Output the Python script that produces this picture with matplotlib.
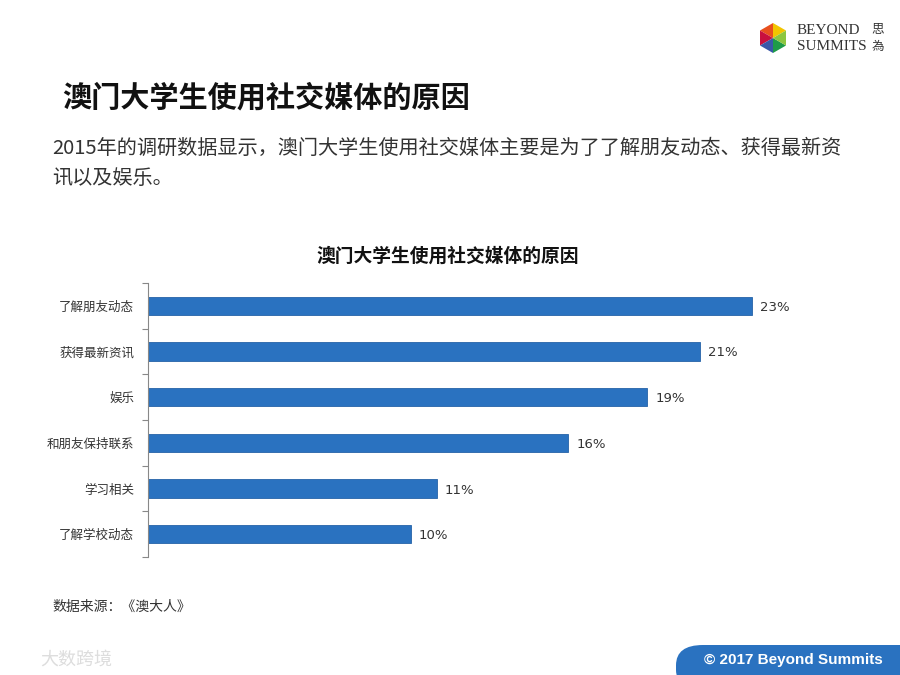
import matplotlib.pyplot as plt
from matplotlib.patches import Polygon, FancyBboxPatch
import numpy as np

plt.rcParams['font.family'] = ['Noto Sans CJK SC', 'DejaVu Sans']

# ---------------- data ----------------
reasons = ['了解朋友动态', '获得最新资讯', '娱乐', '和朋友保持联系', '学习相关', '了解学校动态']
shares = [23, 21, 19, 16, 11, 10]
value_labels = ['23%', '21%', '19%', '16%', '11%', '10%']

W, H = 900, 675
fig = plt.figure(figsize=(9, 6.75), dpi=100)
fig.patch.set_facecolor('white')

def fx(x):
    return x / W

def fy(y):
    return 1 - y / H

# ---------------- header ----------------
fig.text(fx(62), fy(97), '澳门大学生使用社交媒体的原因', fontsize=21, fontweight='bold',
         color='#111111', va='center', ha='left')
fig.text(fx(52), fy(148), '2015年的调研数据显示，澳门大学生使用社交媒体主要是为了了解朋友动态、获得最新资',
         fontsize=14.5, color='#333333', va='center', ha='left')
fig.text(fx(52), fy(179), '讯以及娱乐。', fontsize=14.5, color='#333333', va='center', ha='left')

# logo (hexagon of coloured triangles)
cx, cy, r = 773, 38, 15
logo_cols = ['#f2c500', '#e8501e', '#c8103e', '#3a57a8', '#1e9b48', '#8cc63f']
ang = np.deg2rad(np.arange(0, 361, 60) + 30)
for i in range(6):
    pts = [(fx(cx), fy(cy)),
           (fx(cx + r * np.cos(ang[i])), fy(cy - r * np.sin(ang[i]))),
           (fx(cx + r * np.cos(ang[i + 1])), fy(cy - r * np.sin(ang[i + 1])))]
    fig.patches.append(Polygon(pts, closed=True, facecolor=logo_cols[i], edgecolor='none',
                               transform=fig.transFigure))
fig.text(fx(797), fy(30), 'BEYOND', fontsize=11, family='Liberation Serif', color='#333333',
         va='center', ha='left')
fig.text(fx(797), fy(46), 'SUMMITS', fontsize=11, family='Liberation Serif', color='#333333',
         va='center', ha='left')
fig.text(fx(878), fy(30), '思', fontsize=9, color='#333333', va='center', ha='center')
fig.text(fx(878), fy(46), '為', fontsize=9, color='#333333', va='center', ha='center')

# ---------------- chart ----------------
fig.text(fx(448), fy(256), '澳门大学生使用社交媒体的原因', fontsize=13.5, fontweight='bold',
         color='#111111', va='center', ha='center')

ax = fig.add_axes([fx(148), fy(557), fx(860 - 148), (557 - 283) / H])
ax.set_facecolor('none')
ypos = np.arange(len(reasons))
ax.barh(ypos, shares, height=0.4, color='#2a72c0', edgecolor='#2563a8', linewidth=0.6)
for y, v, lab in zip(ypos, shares, value_labels):
    ax.text(v + 0.3, y, lab, va='center_baseline', ha='left', fontsize=9.5,
            family='DejaVu Sans', color='#333333')

ax.set_xlim(0, 27.1)
ax.set_ylim(len(reasons) - 0.5, -0.5)
ax.set_yticks(ypos)
ax.set_yticklabels(reasons, fontsize=9, color='#333333')
ax.set_yticks(np.arange(len(reasons) + 1) - 0.5, minor=True)
ax.tick_params(axis='y', which='major', length=0, pad=10)
ax.tick_params(axis='y', which='minor', length=4, color='#888888', width=0.8)
ax.set_xticks([])
for s in ['top', 'right', 'bottom']:
    ax.spines[s].set_visible(False)
ax.spines['left'].set_color('#888888')
ax.spines['left'].set_linewidth(0.8)

# ---------------- footer ----------------
fig.text(fx(52), fy(607), '数据来源：《澳大人》', fontsize=10, color='#333333', va='center', ha='left')
fig.text(fx(40), fy(660), '大数跨境', fontsize=13, color='#dddddd', va='center', ha='left')

banner = FancyBboxPatch((fx(676), fy(690)), fx(260), (690 - 645) / H,
                        boxstyle='round,pad=0,rounding_size=0.03',
                        facecolor='#2a72c0', edgecolor='none', transform=fig.transFigure)
fig.patches.append(banner)
fig.text(fx(793), fy(660), '© 2017 Beyond Summits', fontsize=11, fontweight='bold',
         family='Liberation Sans', color='white', va='center', ha='center')

fig.savefig('out.png', dpi=100, facecolor='white')
